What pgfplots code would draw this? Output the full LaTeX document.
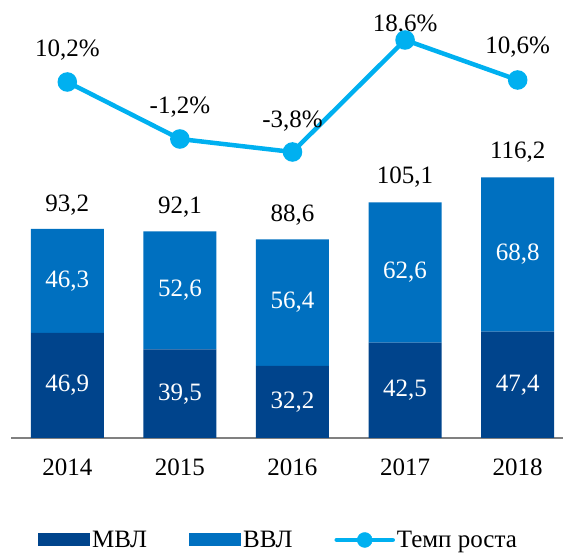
\documentclass[border=0pt]{standalone}
\usepackage{fontspec}
\setmainfont{Liberation Serif}
\usepackage{pgfplots}
\pgfplotsset{compat=1.18}
\definecolor{mvl}{HTML}{00448C}
\definecolor{vvl}{HTML}{0070C0}
\definecolor{rate}{HTML}{00B0F0}
\begin{document}
\begin{tikzpicture}[font=\fontsize{25}{30}\selectfont]
\useasboundingbox (0,0) rectangle (566pt,554pt);
\begin{axis}[at={(11pt,116pt)}, anchor=south west, scale only axis,
  width=551.7pt, height=418pt,
  xmin=-0.5, xmax=4.4, ymin=0, ymax=186.4, clip=false,
  ybar stacked, bar width=73pt,
  axis x line=bottom, axis y line=none,
  x axis line style={-, draw=gray, line width=1.5pt},
  xtick={0,1,2,3,4}, xticklabels={2014,2015,2016,2017,2018},
  major tick length=0pt,
  xticklabel style={anchor=center, yshift=-29pt, font=\fontsize{25}{30}\selectfont},
  legend style={draw=none, fill=none, legend columns=3, at={(0.485,-0.244)}, anchor=center,
    font=\fontsize{25}{30}\selectfont,
    /tikz/every even column/.append style={column sep=40pt}},
  legend cell align=left,
]
\addplot[fill=mvl, draw=none, legend image code/.code={\fill[mvl] (0pt,-6.5pt) rectangle (52pt,6.5pt);}]
  coordinates {(0,46.9) (1,39.5) (2,32.2) (3,42.5) (4,47.4)};
\addplot[fill=vvl, draw=none, legend image code/.code={\fill[vvl] (0pt,-6.5pt) rectangle (52pt,6.5pt);}]
  coordinates {(0,46.3) (1,52.6) (2,56.4) (3,62.6) (4,68.8)};
\addlegendimage{legend image code/.code={\draw[rate, line width=4.5pt, line cap=round] (0pt,0pt) -- (56pt,0pt); \fill[rate] (28pt,0pt) circle (7.5pt);}}
\legend{МВЛ, ВВЛ, Темп роста}
\end{axis}
\begin{axis}[at={(11pt,116pt)}, anchor=south west, scale only axis,
  width=551.7pt, height=418pt,
  xmin=-0.5, xmax=4.4, ymin=0, ymax=186.4, clip=false,
  axis lines=none]
\addplot[draw=none, mark=none] coordinates {(0,0) (4,0)};
% labels inside bars
\node[white] at (axis cs:0,23.45) {46,9};
\node[white] at (axis cs:1,19.75) {39,5};
\node[white] at (axis cs:2,16.1) {32,2};
\node[white] at (axis cs:3,21.25) {42,5};
\node[white] at (axis cs:4,23.7) {47,4};
\node[white] at (axis cs:0,70.05) {46,3};
\node[white] at (axis cs:1,65.8) {52,6};
\node[white] at (axis cs:2,60.4) {56,4};
\node[white] at (axis cs:3,73.8) {62,6};
\node[white] at (axis cs:4,81.8) {68,8};
% totals
\node[yshift=24pt] at (axis cs:0,93.2) {93,2};
\node[yshift=24pt] at (axis cs:1,92.1) {92,1};
\node[yshift=24pt] at (axis cs:2,88.6) {88,6};
\node[yshift=25pt] at (axis cs:3,105.1) {105,1};
\node[yshift=25pt] at (axis cs:4,116.2) {116,2};
\end{axis}
\begin{axis}[at={(11pt,116pt)}, anchor=south west, scale only axis,
  width=551.7pt, height=418pt,
  xmin=-0.5, xmax=4.4, ymin=-61, ymax=22.6, clip=false,
  axis lines=none]
\addplot[rate, line width=4.5pt, mark=*, mark size=7.5pt, mark options={draw=none, fill=rate}]
  coordinates {(0,10.2) (1,-1.2) (2,-3.8) (3,18.6) (4,10.6)};
\node[yshift=32pt] at (axis cs:0,10.2) {10,2\%};
\node[yshift=32pt] at (axis cs:1,-1.2) {-1,2\%};
\node[yshift=31pt] at (axis cs:2,-3.8) {-3,8\%};
\node[yshift=15pt] at (axis cs:3,18.6) {18,6\%};
\node[yshift=33pt] at (axis cs:4,10.6) {10,6\%};
\end{axis}
\end{tikzpicture}
\end{document}
